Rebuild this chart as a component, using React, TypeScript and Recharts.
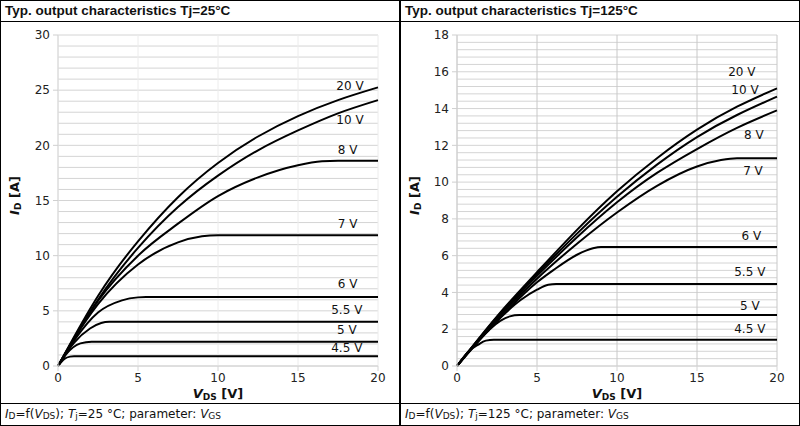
import React from "react";
import { ComposedChart, Line, XAxis, YAxis, CartesianGrid, ReferenceDot } from "recharts";

// V_DS [V], I_D [A] pairs
const tj25Vgs20 = [[0, 0], [2.5, 6.35], [5, 11.3], [7.5, 15.3], [10, 18.4], [12.5, 20.8], [15, 22.65], [17.5, 24.1], [20, 25.25]];
const tj25Vgs10 = [[0, 0], [2.5, 6.0], [5, 10.7], [7.5, 14.4], [10, 17.25], [12.5, 19.55], [15, 21.35], [17.5, 22.9], [20, 24.1]];
const tj25Vgs8 = [[0, 0], [1, 2.5], [2.5, 5.9], [5, 10.0], [7.5, 12.9], [10, 15.4], [12.5, 17.1], [15, 18.2], [16.5, 18.55], [17.5, 18.6], [20, 18.6]];
const tj25Vgs7 = [[0, 0], [1, 2.45], [2.5, 5.6], [5, 9.2], [7.5, 11.2], [9, 11.75], [10, 11.85], [20, 11.85]];
const tj25Vgs6 = [[0, 0], [1, 2.3], [2.5, 4.85], [4, 5.95], [5, 6.22], [5.5, 6.25], [20, 6.25]];
const tj25Vgs55 = [[0, 0], [1, 2.1], [2, 3.4], [2.7, 3.9], [3.2, 4.0], [20, 4.0]];
const tj25Vgs5 = [[0, 0], [0.5, 1.05], [1.4, 2.05], [2.1, 2.2], [20, 2.2]];
const tj25Vgs45 = [[0, 0], [0.4, 0.65], [0.75, 0.85], [1.0, 0.88], [20, 0.88]];

const tj125Vgs20 = [[0, 0], [2.5, 2.7], [5, 5.1], [7.5, 7.4], [10, 9.5], [12.5, 11.3], [15, 12.85], [17.5, 14.1], [20, 15.1]];
const tj125Vgs10 = [[0, 0], [2.5, 2.65], [5, 5.0], [7.5, 7.2], [10, 9.2], [12.5, 10.95], [15, 12.45], [17.5, 13.65], [20, 14.65]];
const tj125Vgs8 = [[0, 0], [2.5, 2.6], [5, 4.9], [7.5, 7.0], [10, 8.9], [12.5, 10.5], [15, 11.8], [17.5, 12.95], [20, 13.9]];
const tj125Vgs7 = [[0, 0], [2.5, 2.55], [5, 4.75], [7.5, 6.65], [10, 8.35], [12.5, 9.8], [15, 10.85], [16.5, 11.2], [17.5, 11.3], [20, 11.3]];
const tj125Vgs6 = [[0, 0], [2.5, 2.45], [5, 4.55], [6, 5.2], [7.5, 6.05], [8.5, 6.4], [9, 6.47], [20, 6.47]];
const tj125Vgs55 = [[0, 0], [1.5, 1.55], [2.5, 2.45], [4, 3.6], [5, 4.15], [5.7, 4.42], [6.2, 4.46], [20, 4.46]];
const tj125Vgs5 = [[0, 0], [1, 1.05], [2, 1.95], [2.7, 2.45], [3.3, 2.7], [3.9, 2.77], [20, 2.77]];
const tj125Vgs45 = [[0, 0], [0.8, 0.85], [1.3, 1.15], [1.8, 1.38], [2.3, 1.43], [20, 1.43]];

const vgsLabels = ["20 V", "10 V", "8 V", "7 V", "6 V", "5.5 V", "5 V", "4.5 V"];
// where each curve's label sits (V_DS, I_D)
const tj25LabelPos = [[18.25, 25.4], [18.25, 22.3], [18.1, 19.6], [18.1, 12.9], [18.1, 7.5], [18.05, 5.1], [18.05, 3.3], [18.05, 1.65]];
const tj125LabelPos = [[17.8, 16.0], [18.0, 15.05], [18.55, 12.6], [18.5, 10.6], [18.4, 7.1], [18.3, 5.1], [18.3, 3.3], [18.3, 2.05]];

// curves that never flatten get a natural spline, the rest monotone
const tj25Curve = ["natural", "natural", "monotone", "monotone", "monotone", "monotone", "monotone", "monotone"];
const tj125Curve = ["natural", "natural", "natural", "monotone", "monotone", "monotone", "monotone", "monotone"];

const xTicks = [0, 5, 10, 15, 20];
const tj25YMajor = [0, 5, 10, 15, 20, 25, 30];
const tj125YMajor = [0, 2, 4, 6, 8, 10, 12, 14, 16, 18];

const minorSteps = (max: number, step: number) =>
  Array.from({ length: Math.round(max / step) + 1 }, (_, k) => Math.round(k * step * 10) / 10);

const toPts = (a: number[][]) => a.map(([v, i]) => ({ v, i }));

const tickFont = "'DejaVu Sans', sans-serif";

function YTick(props: any) {
  const { x, y, payload, major } = props;
  if (!major.includes(payload.value)) return <g />;
  return (
    <g>
      <line x1={x + 3} x2={x + 8} y1={y} y2={y} stroke="#cfcfcf" />
      <text x={x} y={y} dy="0.35em" textAnchor="end" fontSize={12} fontFamily={tickFont} fill="#222">
        {payload.value}
      </text>
    </g>
  );
}

function XLabel({ viewBox }: any) {
  const cx = viewBox.x + viewBox.width / 2;
  return (
    <text x={cx} y={viewBox.y + 32} textAnchor="middle" fontSize={13} fontWeight="bold" fontFamily={tickFont} fill="#111">
      <tspan fontStyle="italic">V</tspan>
      <tspan fontSize={9} dy={2}>DS</tspan>
      <tspan dy={-2}> [V]</tspan>
    </text>
  );
}

function YLabel({ viewBox }: any) {
  const cx = 13;
  const cy = viewBox.y + viewBox.height / 2 - 5;
  return (
    <text x={cx} y={cy} transform={`rotate(-90, ${cx}, ${cy})`} textAnchor="middle" dy="0.35em" fontSize={13} fontWeight="bold" fontFamily={tickFont} fill="#111">
      <tspan fontStyle="italic">I</tspan>
      <tspan fontSize={9} dy={2}>D</tspan>
      <tspan dy={-2}> [A]</tspan>
    </text>
  );
}

type PanelProps = {
  left: number;
  title: string;
  tj: string;
  series: number[][][];
  curves: string[];
  labelPos: number[][];
  yMax: number;
  yStep: number;
  yMajor: number[];
  vGrid: string;
  yAxisWidth: number;
  rightMargin: number;
};

function Panel(p: PanelProps) {
  const yTicks = minorSteps(p.yMax, p.yStep);
  return (
    <div
      style={{
        position: "absolute",
        left: p.left,
        top: 0,
        width: 400,
        height: 426,
        boxSizing: "border-box",
        border: "1px solid #000",
        background: "#fff",
      }}
    >
      <div
        style={{
          height: 20,
          lineHeight: "20px",
          borderBottom: "1px solid #000",
          paddingLeft: 4,
          fontFamily: "'Liberation Sans', Arial, sans-serif",
          fontWeight: "bold",
          fontSize: 13.5,
          color: "#111",
        }}
      >
        {p.title}
      </div>
      <ComposedChart width={398} height={381} margin={{ top: 13, right: p.rightMargin, bottom: 0, left: 0 }}>
        <CartesianGrid vertical={false} stroke="#d4d4d4" />
        <CartesianGrid horizontal={false} stroke={p.vGrid} />
        <XAxis
          type="number"
          dataKey="v"
          domain={[0, 20]}
          ticks={xTicks}
          interval={0}
          height={37}
          tickSize={5}
          tickMargin={2}
          tickLine={{ stroke: "#d4d4d4" }}
          axisLine={{ stroke: "#d4d4d4" }}
          tick={{ fontSize: 12, fontFamily: tickFont, fill: "#222" }}
          label={<XLabel />}
        />
        <YAxis
          type="number"
          domain={[0, p.yMax]}
          ticks={yTicks}
          interval={0}
          width={p.yAxisWidth}
          tickSize={5}
          tickMargin={3}
          tickLine={false}
          axisLine={{ stroke: "#d4d4d4" }}
          tick={(tp: any) => <YTick {...tp} major={p.yMajor} />}
          label={<YLabel />}
        />
        {p.series.map((s, k) => (
          <Line
            key={vgsLabels[k]}
            data={toPts(s)}
            dataKey="i"
            type={p.curves[k] as any}
            stroke="#000"
            strokeWidth={2}
            dot={false}
            activeDot={false}
            isAnimationActive={false}
          />
        ))}
        {p.labelPos.map(([v, i], k) => (
          <ReferenceDot
            key={"lbl" + k}
            x={v}
            y={i}
            r={0}
            fill="none"
            stroke="none"
            label={{ value: vgsLabels[k], position: "center", fontSize: 12, fontFamily: tickFont, fill: "#111" }}
          />
        ))}
      </ComposedChart>
      <div
        style={{
          borderTop: "1px solid #000",
          height: 21,
          lineHeight: "20px",
          paddingLeft: 4,
          fontFamily: tickFont,
          fontSize: 12,
          color: "#111",
          whiteSpace: "nowrap",
        }}
      >
        <i>I</i>
        <span style={{ fontSize: 9, position: "relative", top: 1 }}>D</span>=f(<i>V</i>
        <span style={{ fontSize: 9, position: "relative", top: 1 }}>DS</span>); <i>T</i>
        <span style={{ fontSize: 9, position: "relative", top: 1 }}>j</span>={p.tj} °C; parameter: <i>V</i>
        <span style={{ fontSize: 9, position: "relative", top: 1 }}>GS</span>
      </div>
    </div>
  );
}

export default function App() {
  return (
    <div style={{ position: "absolute", left: 0, top: 0, width: 800, height: 426, background: "#fff" }}>
      <Panel
        left={0}
        title="Typ. output characteristics Tj=25°C"
        tj="25"
        series={[tj25Vgs20, tj25Vgs10, tj25Vgs8, tj25Vgs7, tj25Vgs6, tj25Vgs55, tj25Vgs5, tj25Vgs45]}
        curves={tj25Curve}
        labelPos={tj25LabelPos}
        yMax={30}
        yStep={1}
        yMajor={tj25YMajor}
        vGrid="#ececec"
        yAxisWidth={57}
        rightMargin={21}
      />
      <Panel
        left={400}
        title="Typ. output characteristics Tj=125°C"
        tj="125"
        series={[tj125Vgs20, tj125Vgs10, tj125Vgs8, tj125Vgs7, tj125Vgs6, tj125Vgs55, tj125Vgs5, tj125Vgs45]}
        curves={tj125Curve}
        labelPos={tj125LabelPos}
        yMax={18}
        yStep={0.4}
        yMajor={tj125YMajor}
        vGrid="#c8c8c8"
        yAxisWidth={56}
        rightMargin={22}
      />
    </div>
  );
}
